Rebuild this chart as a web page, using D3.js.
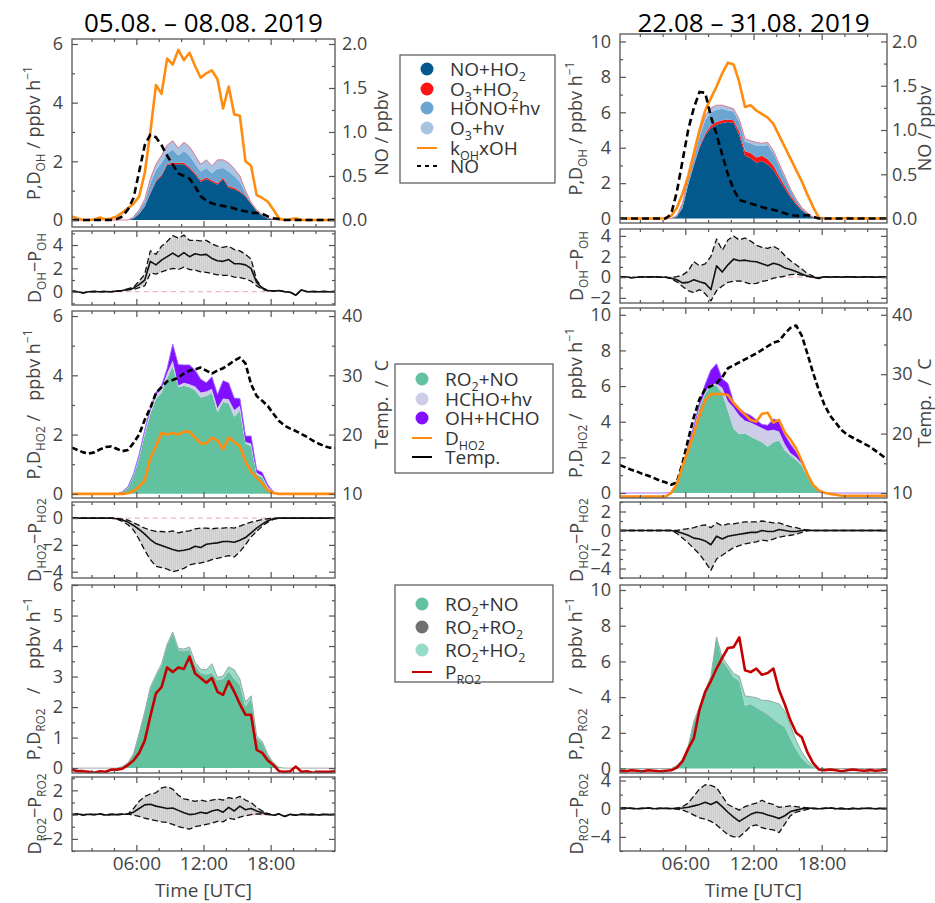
<!DOCTYPE html>
<html>
<head>
<meta charset="utf-8">
<script src="https://cdn.jsdelivr.net/npm/d3@7/dist/d3.min.js"></script>
<style>
  body { margin: 0; background: #fff; }
  svg text { font-family: "Open Sans", sans-serif; }
</style>
</head>
<body>
<script>
// half-hour bins (UTC)
const hours = [0.25,0.75,1.25,1.75,2.25,2.75,3.25,3.75,4.25,4.75,5.25,5.75,6.25,6.75,7.25,7.75,8.25,8.75,9.25,9.75,10.25,10.75,11.25,11.75,12.25,12.75,13.25,13.75,14.25,14.75,15.25,15.75,16.25,16.75,17.25,17.75,18.25,18.75,19.25,19.75,20.25,20.75,21.25,21.75,22.25,22.75,23.25,23.75];

// ---------- 05.08. - 08.08. 2019 ----------
// OH budget
const L_NO_HO2 = [0,0,0,0,0,0,0,0,0,0,0,0.05,0.2,0.45,0.9,1.3,1.5,1.88,1.9,1.9,1.9,1.75,1.55,1.3,1.4,1.3,1.2,1.4,1.1,1.05,0.95,0.8,0.55,0.3,0.15,0.05,0.02,0,0,0,0,0,0,0,0,0,0,0];
const L_O3_HO2 = [0,0,0,0,0,0,0,0,0,0,0,0,0.01,0.02,0.03,0.04,0.04,0.04,0.05,0.05,0.05,0.05,0.05,0.05,0.05,0.05,0.05,0.05,0.05,0.05,0.04,0.03,0.02,0.01,0,0,0,0,0,0,0,0,0,0,0,0,0,0];
const L_HONO_hv = [0,0,0,0,0,0,0,0,0,0,0,0.04,0.1,0.15,0.32,0.36,0.41,0.35,0.45,0.25,0.4,0.4,0.32,0.3,0.32,0.25,0.5,0.32,0.5,0.4,0.31,0.1,0.02,0.02,0.02,0.01,0,0,0,0,0,0,0,0,0,0,0,0];
const L_O3_hv = [0,0,0,0,0,0,0,0,0,0,0,0.01,0.04,0.08,0.15,0.2,0.25,0.28,0.3,0.25,0.3,0.3,0.28,0.25,0.28,0.25,0.3,0.28,0.3,0.25,0.2,0.07,0.01,0.02,0.01,0,0,0,0,0,0,0,0,0,0,0,0,0];
const L_kOH_OH = [0.12,0.05,0,0,0.02,0.08,0.02,0.05,0.12,0.25,0.4,0.55,0.8,1.6,3.0,4.6,4.3,5.5,5.3,5.8,5.45,5.7,5.25,4.85,5.0,5.1,4.8,3.8,4.55,3.6,3.55,2.0,1.85,0.85,0.75,0.62,0.35,0.05,0,0.02,0.06,0,0,0,0,0,0,0];
const L_NO = [0,0,0,0,0,0,0,0,0.01,0.04,0.12,0.25,0.55,0.85,0.97,0.94,0.85,0.73,0.63,0.53,0.5,0.47,0.38,0.27,0.22,0.19,0.17,0.16,0.15,0.13,0.11,0.1,0.08,0.08,0.07,0.04,0.02,0.01,0,0,0,0,0,0,0,0,0,0];
const L_dOH = [0.05,0,-0.1,0,0.02,0,0.02,0,0.05,0.1,0.2,0.3,0.6,1.0,2.6,2.3,2.7,3.0,3.3,3.0,3.35,3.0,3.25,3.15,3.2,2.85,2.65,2.6,2.75,2.4,2.4,2.3,2.0,0.8,0.3,0.1,0.05,0.1,0,-0.05,-0.3,0.15,0,0.02,0,0.02,0,0.02];
const L_dOH_hi = [0.05,0,-0.1,0,0.02,0,0.02,0,0.06,0.12,0.25,0.4,0.9,1.5,3.5,3.2,3.9,4.3,4.8,4.6,4.85,4.4,4.4,4.35,4.4,4.1,3.9,3.8,3.9,3.6,3.5,3.2,2.8,1.0,0.35,0.12,0.05,0.1,0,-0.05,-0.3,0.15,0,0.02,0,0.02,0,0.02];
const L_dOH_lo = [0.05,0,-0.1,0,0.02,0,0.02,0,0.04,0.08,0.15,0.2,0.35,0.5,1.6,1.5,1.7,1.85,2.0,1.9,2.1,1.9,1.85,1.7,1.65,1.55,1.45,1.4,1.4,1.25,1.2,1.1,0.9,0.5,0.2,0.08,0.05,0.1,0,-0.05,-0.3,0.15,0,0.02,0,0.02,0,0.02];
// HO2 budget
const L_RO2_NO_h = [0,0,0,0,0,0,0,0,0,0.05,0.2,0.6,1.2,2.0,2.7,3.2,3.4,3.9,4.3,3.6,3.65,3.6,3.5,3.25,3.3,3.4,2.75,3.1,3.05,2.6,2.8,1.7,1.6,0.65,0.55,0.2,0.05,0,0,0,0,0,0,0,0,0,0,0];
const L_HCHO_hv = [0,0,0,0,0,0,0,0,0,0.01,0.02,0.05,0.08,0.1,0.12,0.15,0.15,0.18,0.2,0.06,0.1,0.1,0.12,0.17,0.15,0.15,0.15,0.12,0.14,0.23,0.17,0.05,0.1,0.06,0.05,0.04,0.01,0,0,0,0,0,0,0,0,0,0,0];
const L_OH_HCHO = [0,0,0,0,0,0,0,0,0,0.01,0.02,0.03,0.05,0.06,0.08,0.08,0.1,0.15,0.55,0.7,0.6,0.65,0.55,0.45,0.3,0.4,0.45,0.6,0.55,0.4,0.25,0.2,0.25,0.1,0.12,0.06,0.01,0,0,0,0,0,0,0,0,0,0,0];
const L_D_HO2 = [0,0,0,0,0,0,0,0,0,0,0.02,0.1,0.25,0.45,1.2,1.6,2.05,2.0,2.05,2.0,2.1,2.1,1.9,1.7,1.7,1.9,1.8,1.5,1.9,1.75,1.6,1.1,0.75,0.55,0.35,0.12,0.03,0,0,0,0,0,0,0,0,0,0,0];
const L_temp = [17.8,17.4,17.0,16.8,17.0,17.5,17.9,18.0,17.6,17.2,17.4,18.6,20.0,22.5,24.5,27.0,28.0,29.0,29.2,29.6,30.3,30.8,31.0,31.3,30.8,30.3,30.8,31.2,31.8,32.5,33.0,32.0,28.5,26.5,25.7,24.8,23.5,22.3,21.5,21.0,20.6,20.1,19.6,19.0,18.5,18.1,17.8,17.7];
const L_dHO2 = [0,0,0,0,0,0,0,0,-0.05,-0.15,-0.3,-0.55,-0.85,-1.2,-1.6,-1.9,-2.05,-2.2,-2.35,-2.45,-2.4,-2.3,-2.1,-2.2,-1.95,-1.9,-1.85,-1.75,-1.75,-1.8,-1.65,-1.45,-1.1,-0.75,-0.45,-0.2,-0.05,0,0,0,0,0,0,0,0,0,0,0];
const L_dHO2_hi = [0,0,0,0,0,0,0,0,-0.02,-0.08,-0.15,-0.35,-0.55,-0.75,-0.9,-1.0,-1.0,-1.05,-0.95,-1.1,-1.0,-0.95,-0.8,-0.75,-0.75,-0.8,-0.75,-0.75,-0.7,-0.75,-0.6,-0.45,-0.3,-0.2,-0.1,-0.05,0,0,0,0,0,0,0,0,0,0,0,0];
const L_dHO2_lo = [0,0,0,0,0,0,0,0,-0.08,-0.25,-0.5,-0.9,-1.6,-2.4,-3.1,-3.6,-3.7,-3.8,-4.0,-3.9,-3.75,-3.5,-3.4,-3.35,-3.25,-3.1,-3.0,-2.9,-2.8,-2.9,-2.5,-2.0,-1.4,-1.0,-0.6,-0.3,-0.1,0,0,0,0,0,0,0,0,0,0,0];
// RO2 budget
const L_RO2_NO = [0,0,0,0,0,0,0,0,0,0.05,0.15,0.45,1.1,1.8,2.6,3.0,3.35,4.0,4.4,3.85,3.8,3.85,3.35,3.1,3.05,3.1,2.85,2.9,3.15,2.9,2.7,2.0,2.25,0.95,0.8,0.4,0.15,0.02,0,0,0,0,0,0,0,0,0,0];
const L_RO2_RO2 = [0,0,0,0,0,0,0,0,0,0,0.02,0.02,0.02,0.02,0.02,0.02,0.02,0.02,0.02,0.02,0.02,0.02,0.02,0.02,0.02,0.02,0.02,0.02,0.02,0.02,0.02,0.02,0.02,0.02,0.02,0.02,0.02,0,0,0,0,0,0,0,0,0,0,0];
const L_RO2_HO2 = [0,0,0,0,0,0,0,0,0,0,0,0,0.02,0.03,0.03,0.04,0.04,0.04,0.04,0.05,0.08,0.1,0.1,0.12,0.15,0.3,0.1,0.1,0.15,0.3,0.2,0.15,0.1,0.08,0.05,0.02,0,0,0,0,0,0,0,0,0,0,0,0];
const L_P_RO2 = [-0.05,-0.1,-0.1,-0.12,-0.15,-0.1,-0.12,-0.05,-0.05,-0.02,0.1,0.25,0.5,0.9,1.7,2.45,2.65,3.3,3.15,3.3,3.25,3.65,3.1,2.95,2.8,2.95,2.5,2.4,2.85,2.5,2.1,1.75,1.75,0.6,0.5,0.25,0.1,-0.1,-0.12,-0.1,0.05,-0.12,-0.1,-0.15,-0.12,-0.12,-0.12,-0.1];
const L_dRO2 = [0,0.05,-0.02,0.03,0,0.05,-0.03,0.02,0,0.03,0.05,0.2,0.5,0.8,0.85,0.7,0.6,0.5,0.55,0.35,0.15,0,0.05,0.2,0.1,0.3,0.4,0.2,0.6,0.3,0.7,0.4,0.5,0.3,0.15,0.05,-0.05,0.05,-0.15,0.02,-0.05,0.03,0,0.02,-0.03,0.02,0,0.02];
const L_dRO2_hi = [0,0.05,-0.02,0.03,0,0.05,-0.03,0.02,0,0.03,0.05,0.5,1.1,1.5,1.7,1.8,2.2,2.3,2.1,1.6,1.3,1.2,1.1,1.2,1.1,1.2,1.3,1.2,1.4,1.3,1.5,1.2,1.0,0.6,0.3,0.1,-0.05,0.05,-0.15,0.02,-0.05,0.03,0,0.02,-0.03,0.02,0,0.02];
const L_dRO2_lo = [0,0.05,-0.02,0.03,0,0.05,-0.03,0.02,0,0.03,0.05,-0.05,-0.15,-0.3,-0.4,-0.5,-0.6,-0.65,-0.8,-1.0,-1.1,-1.2,-1.0,-0.9,-0.8,-0.7,-0.55,-0.6,-0.3,-0.4,-0.2,-0.1,0,0.05,0.05,0,-0.05,0.05,-0.15,0.02,-0.05,0.03,0,0.02,-0.03,0.02,0,0.02];

// ---------- 22.08 - 31.08. 2019 ----------
const R_NO_HO2 = [0,0,0,0,0,0,0,0,0,0,0.1,0.6,1.9,3.0,4.0,4.7,5.1,5.3,5.4,5.45,5.4,4.7,3.55,3.4,3.15,3.25,3.05,2.75,2.2,1.7,1.2,0.8,0.45,0.25,0.05,0,0,0,0,0,0,0,0,0,0,0,0,0];
const R_O3_HO2 = [0,0,0,0,0,0,0,0,0,0,0,0.01,0.02,0.05,0.08,0.1,0.15,0.15,0.15,0.15,0.15,0.2,0.25,0.3,0.3,0.3,0.3,0.25,0.2,0.15,0.12,0.1,0.05,0.02,0.01,0,0,0,0,0,0,0,0,0,0,0,0,0];
const R_HONO_hv = [0,0,0,0,0,0,0,0,0,0,0.05,0.2,0.3,0.3,0.55,0.75,0.75,0.7,0.65,0.5,0.5,0.55,0.55,0.55,0.65,0.55,0.8,0.7,0.6,0.45,0.3,0.15,0.1,0.05,0.02,0,0,0,0,0,0,0,0,0,0,0,0,0];
const R_O3_hv = [0,0,0,0,0,0,0,0,0,0,0.02,0.05,0.1,0.1,0.2,0.25,0.25,0.25,0.2,0.2,0.15,0.15,0.15,0.15,0.2,0.15,0.15,0.15,0.1,0.1,0.05,0.05,0.02,0.01,0,0,0,0,0,0,0,0,0,0,0,0,0,0];
const R_kOH_OH = [0,0,0,0,0,0,0,0,0.02,0.15,0.6,1.4,2.4,3.7,5.0,6.1,6.8,7.45,8.2,8.8,8.7,7.7,6.3,6.4,6.1,5.9,5.7,5.35,4.7,4.05,3.4,2.75,2.1,1.35,0.65,0.05,0,0.02,0,0,0.03,0,0,0.02,0,0,0.02,0];
const R_NO = [0,0,0,0,0,0,0,0,0,0.05,0.3,0.65,1.0,1.25,1.43,1.42,1.15,0.95,0.72,0.5,0.33,0.21,0.19,0.17,0.15,0.13,0.11,0.1,0.08,0.06,0.04,0.03,0.03,0.04,0.02,0,0,0,0,0,0,0,0,0,0,0,0,0];
const R_dOH = [0.05,0.05,-0.05,0,0.05,0.02,0.05,0,0,-0.1,-0.25,-0.55,-0.5,-0.25,-0.45,-0.6,-1.2,1.1,0.5,1.2,1.75,1.6,1.65,1.55,1.5,1.3,1.1,1.35,1.2,0.9,0.75,0.55,0.3,0.1,0,-0.1,0.05,0,0.05,0,0.05,0.02,0,0.05,0.02,0,0.05,0];
const R_dOH_hi = [0.05,0.05,-0.05,0,0.05,0.02,0.05,0,0,-0.05,0.05,0.2,0.6,1.5,1.1,1.3,2.0,3.7,2.6,3.6,4.0,3.6,3.8,3.5,3.1,2.9,2.8,3.0,2.7,2.1,1.6,1.2,0.8,0.35,0.1,-0.05,0.05,0,0.05,0,0.05,0.02,0,0.05,0.02,0,0.05,0];
const R_dOH_lo = [0.05,0.05,-0.05,0,0.05,0.02,0.05,0,0,-0.15,-0.45,-0.9,-1.3,-1.5,-1.2,-1.6,-2.3,-1.3,-0.85,-0.5,-0.4,-0.35,-0.5,-0.65,-0.6,-0.4,-0.3,-0.1,0,0.1,0.25,0.3,0.2,0.1,0,-0.15,0.05,0,0.05,0,0.05,0.02,0,0.05,0.02,0,0.05,0];
const R_RO2_NO_h = [0,0,0,0,0,0,0,0,0,0.02,0.4,1.4,2.5,3.5,4.8,5.6,6.0,6.0,5.6,4.6,3.6,3.3,3.35,3.15,3.0,2.85,2.6,2.85,2.95,2.4,2.1,1.85,1.55,0.9,0.35,0.05,0,0,0,0,0,0,0,0,0,0,0,0];
const R_HCHO_hv = [0,0,0,0,0,0,0,0,0,0,0.02,0.05,0.08,0.1,0.1,0.1,0.1,0.15,0.3,0.55,1.2,1.05,0.7,0.8,0.8,0.8,0.9,0.7,0.5,0.35,0.15,0.15,0.1,0.1,0.05,0,0,0,0,0,0,0,0,0,0,0,0,0];
const R_OH_HCHO = [0,0,0,0,0,0,0,0,0,0,0.01,0.05,0.1,0.15,0.2,0.4,0.8,1.1,0.5,1.0,0.3,0.4,0.45,0.4,0.3,0.2,0.3,0.6,0.6,0.5,0.5,0.3,0.15,0.05,0.02,0,0,0,0,0,0,0,0,0,0,0,0,0];
const R_D_HO2 = [-0.2,-0.2,-0.2,-0.2,-0.2,-0.2,-0.2,-0.2,-0.2,0,0.5,1.5,2.4,3.35,4.35,5.2,5.55,5.55,5.55,5.5,5.05,4.7,4.4,4.1,4.0,4.45,4.5,3.95,4.1,3.4,3.0,2.5,1.8,1.05,0.45,0.15,0.02,-0.05,-0.1,-0.15,-0.15,-0.15,-0.15,-0.15,-0.15,-0.15,-0.15,-0.15];
const R_temp = [14.7,14.3,13.9,13.6,13.2,12.9,12.5,12.1,11.8,11.4,11.8,15.0,19.0,22.8,25.8,27.5,28.0,28.5,29.5,31.0,31.5,32.0,32.5,33.0,33.5,34.1,34.7,35.3,35.6,36.8,37.8,38.2,36.5,33.4,30.2,27.3,24.8,23.0,21.8,20.6,19.8,19.3,18.8,18.3,17.8,17.1,16.4,15.7];
const R_dHO2 = [0,0,0,0,0,0,0,0,0,0,-0.1,-0.3,-0.5,-0.8,-0.9,-1.1,-1.5,-0.6,-0.9,-0.6,-0.5,-0.4,-0.3,-0.2,-0.2,0,-0.1,-0.1,0.1,0,-0.1,-0.1,0,0.05,0,0,0,0,0,0,0,0,0,0,0,0,0,0];
const R_dHO2_hi = [0,0,0,0,0,0,0,0,0,0,0,0.1,0.2,0.3,0.5,0.6,0.3,0.8,0.5,0.7,0.7,0.8,0.9,0.9,0.9,1.0,0.9,0.8,0.8,0.6,0.4,0.3,0.15,0.05,0,0,0,0,0,0,0,0,0,0,0,0,0,0];
const R_dHO2_lo = [0,0,0,0,0,0,0,0,0,0,-0.3,-0.8,-1.3,-1.9,-2.5,-3.3,-4.2,-3.0,-2.6,-2.2,-1.8,-1.6,-1.4,-1.3,-1.2,-1.0,-1.1,-0.9,-0.7,-0.6,-0.5,-0.4,-0.2,-0.05,0,0,0,0,0,0,0,0,0,0,0,0,0,0];
const R_RO2_NO = [0,0,0,0,0,0,0,0,0,0,0.15,0.5,1.2,2.6,3.4,4.3,5.1,7.3,6.0,5.6,5.1,4.9,3.5,3.6,3.4,3.2,3.0,2.75,2.5,2.3,1.65,1.05,0.55,0.25,0.05,0,0,0,0,0,0,0,0,0,0,0,0,0];
const R_RO2_RO2 = [0,0,0,0,0,0,0,0,0,0,0.02,0.02,0.02,0.02,0.02,0.02,0.02,0.02,0.02,0.02,0.02,0.02,0.02,0.02,0.02,0.02,0.02,0.02,0.02,0.02,0.02,0.02,0.02,0.02,0.02,0,0,0,0,0,0,0,0,0,0,0,0,0];
const R_RO2_HO2 = [0,0,0,0,0,0,0,0,0,0,0,0,0.02,0.03,0.04,0.05,0.05,0.05,0.2,0.15,0.2,0.25,0.55,0.4,0.55,0.6,0.8,0.95,1.1,0.9,0.75,0.5,0.35,0.2,0.05,0,0,0,0,0,0,0,0,0,0,0,0,0];
const R_P_RO2 = [-0.12,-0.15,-0.1,-0.12,-0.15,-0.1,-0.12,-0.15,-0.12,-0.1,0.05,0.4,1.1,1.7,3.3,4.3,4.9,5.6,6.2,6.75,6.8,7.35,5.5,5.4,5.6,5.25,5.35,5.6,4.4,3.6,2.7,2.0,1.75,0.9,0.3,-0.05,-0.1,-0.05,-0.1,-0.15,-0.1,-0.05,-0.1,-0.12,-0.08,-0.12,-0.1,-0.05];
const R_dRO2 = [0.05,0.1,0.05,0,0.05,0.1,0,0.05,0.05,0.02,0.05,0.1,0.2,0.4,0.6,0.9,0.6,1.0,0.3,-0.5,-1.2,-1.8,-1.3,-0.8,-0.5,-0.6,-0.9,-1.1,-1.4,-1.0,-0.4,-0.2,0,0.1,0.05,0,0.05,0.1,0,0.05,-0.05,0.05,0,0.05,0.05,0,0.05,0.02];
const R_dRO2_hi = [0.05,0.1,0.05,0,0.05,0.1,0,0.05,0.05,0.02,0.1,0.3,0.8,1.8,2.8,3.4,3.3,3.0,1.8,0.6,0.2,-0.2,0.3,0.6,0.8,1.2,0.8,0.6,0.2,0.3,0.4,0.3,0.2,0.1,0.05,0,0.05,0.1,0,0.05,-0.05,0.05,0,0.05,0.05,0,0.05,0.02];
const R_dRO2_lo = [0.05,0.1,0.05,0,0.05,0.1,0,0.05,0.05,0.02,-0.05,-0.2,-0.5,-0.9,-1.3,-1.5,-1.8,-2.3,-3.0,-3.7,-4.0,-4.0,-3.3,-2.5,-2.3,-2.7,-2.9,-3.0,-3.4,-2.2,-1.0,-0.5,-0.3,-0.1,0.05,0,0.05,0.1,0,0.05,-0.05,0.05,0,0.05,0.05,0,0.05,0.02];

// colours
const C_NOHO2 = "#03588c", C_O3HO2 = "#ff1414", C_HONO = "#6ba6d3", C_O3HV = "#a9c3e2";
const C_ORANGE = "#ff8c0f", C_GREEN = "#62c2a0", C_LAV = "#cdcde8", C_PURPLE = "#8010ff";
const C_GREY = "#707070", C_TEAL = "#96dcc9", C_RED = "#c40000";
const FS = 18, LABEL_FILL = "#444";

let svg = d3.select("body").append("svg").attr("width", 935).attr("height", 903);
let defs = svg.append("defs");

// light grey hatch for the uncertainty band
let pat = defs.append("pattern").attr("id", "hatch").attr("patternUnits", "userSpaceOnUse")
    .attr("width", 2).attr("height", 10);
pat.append("rect").attr("width", 2).attr("height", 10).attr("fill", "#cdcdcd");
pat.append("rect").attr("width", 0.7).attr("height", 10).attr("fill", "#dedede");

// text with sub / superscripts: parts = ["P,D", ["OH","sub"], ...]
function rich(t, parts, fs) {
    let shift = 0;
    parts.forEach(p => {
        let s = typeof p === "string" ? p : p[0];
        let k = typeof p === "string" ? "" : p[1];
        let target = k === "sub" ? 0.28 : k === "sup" ? -0.45 : 0;
        t.append("tspan")
            .attr("dy", ((target - shift) * fs).toFixed(2))
            .attr("font-size", k ? fs * 0.66 : fs)
            .text(s);
        shift = target;
    });
}

let nClip = 0;
function makePanel(xs, box) {
    let [top, bottom, dom] = box;
    let y = d3.scaleLinear().domain(dom).range([bottom, top]);
    let [x0, x1] = xs.range();
    let id = "clip" + (nClip++);
    defs.append("clipPath").attr("id", id)
        .append("rect").attr("x", x0).attr("y", top).attr("width", x1 - x0).attr("height", bottom - top);
    let g = svg.append("g");
    let plot = g.append("g").attr("clip-path", "url(#" + id + ")");
    return { xs, y, g, plot, top, bottom, x0, x1, dom };
}

function styleAxis(sel) {
    sel.select(".domain").remove();
    sel.selectAll(".tick line").attr("stroke", "#555").attr("stroke-width", 1.2);
    sel.selectAll(".tick text").attr("fill", LABEL_FILL).attr("font-size", FS);
}

function inside(vals, sc) {
    let [a, b] = d3.extent(sc.domain());
    return vals.filter(v => v >= a - 1e-9 && v <= b + 1e-9);
}

const hourMajor = [6, 12, 18], hourMinor = [2, 4, 8, 10, 14, 16, 20, 22];
const intFmt = d3.format("d");

function axes(p, o) {
    let g = p.g;
    let bottomAx = g.append("g").attr("transform", `translate(0,${p.bottom})`)
        .call(d3.axisBottom(p.xs).tickValues(hourMajor).tickSize(-6).tickPadding(5)
            .tickFormat(o.xLabels ? d => d3.format("02")(d) + ":00" : ""))
        .call(styleAxis);
    bottomAx.selectAll(".tick text")
        .attr("font-family", "'Liberation Sans Narrow', 'Liberation Sans', sans-serif")
        .attr("font-size", 19);
    g.append("g").attr("transform", `translate(0,${p.bottom})`)
        .call(d3.axisBottom(p.xs).tickValues(hourMinor).tickSize(-3).tickFormat("")).call(styleAxis);
    g.append("g").attr("transform", `translate(0,${p.top})`)
        .call(d3.axisTop(p.xs).tickValues(hourMajor).tickSize(-6).tickFormat("")).call(styleAxis);
    g.append("g").attr("transform", `translate(0,${p.top})`)
        .call(d3.axisTop(p.xs).tickValues(hourMinor).tickSize(-3).tickFormat("")).call(styleAxis);

    g.append("g").attr("transform", `translate(${p.x0},0)`)
        .call(d3.axisLeft(p.y).tickValues(inside(o.yt, p.y)).tickSize(-6).tickPadding(9).tickFormat(intFmt))
        .call(styleAxis);
    g.append("g").attr("transform", `translate(${p.x0},0)`)
        .call(d3.axisLeft(p.y).tickValues(inside(o.ym, p.y)).tickSize(-3).tickFormat("")).call(styleAxis);

    let rs = o.right ? o.right.scale : p.y;
    let rt = o.right ? o.right.ticks : o.yt;
    let rm = o.right ? o.right.minor : o.ym;
    g.append("g").attr("transform", `translate(${p.x1},0)`)
        .call(d3.axisRight(rs).tickValues(inside(rt, rs)).tickSize(-6).tickPadding(o.rpad || 7)
            .tickFormat(o.right ? o.right.fmt : ""))
        .call(styleAxis);
    g.append("g").attr("transform", `translate(${p.x1},0)`)
        .call(d3.axisRight(rs).tickValues(inside(rm, rs)).tickSize(-3).tickFormat("")).call(styleAxis);

    g.append("rect").attr("x", p.x0).attr("y", p.top)
        .attr("width", p.x1 - p.x0).attr("height", p.bottom - p.top)
        .attr("fill", "none").attr("stroke", "#555").attr("stroke-width", 1.3);
}

function stackArea(p, cols, colors, outline) {
    let keys = cols.map((c, i) => "k" + i);
    let rows = hours.map((h, i) => {
        let r = { h };
        cols.forEach((c, j) => r["k" + j] = c[i]);
        return r;
    });
    let series = d3.stack().keys(keys)(rows);
    let area = d3.area().x(d => p.xs(d.data.h)).y0(d => p.y(d[0])).y1(d => p.y(d[1]));
    p.plot.selectAll(null).data(series).join("path")
        .attr("d", area).attr("fill", (d, i) => colors[i]);
    let top = d3.line().x(d => p.xs(d.data.h)).y(d => p.y(d[1]));
    p.plot.append("path").datum(series[series.length - 1]).attr("d", top)
        .attr("fill", "none").attr("stroke", outline).attr("stroke-width", 0.9);
}

function drawLine(p, ys, vals, color, w, dash) {
    let line = d3.line().x((d, i) => p.xs(hours[i])).y(d => ys(d));
    p.plot.append("path").datum(vals).attr("d", line)
        .attr("fill", "none").attr("stroke", color).attr("stroke-width", w)
        .attr("stroke-dasharray", dash || null).attr("stroke-linejoin", "round");
}

function diffPanel(p, mean, lo, hi) {
    // zero reference over the daytime span of the band
    let day = hours.filter((h, i) => hi[i] !== lo[i]);
    p.plot.append("line")
        .attr("x1", p.xs(d3.min(day))).attr("x2", p.xs(d3.max(day)))
        .attr("y1", p.y(0)).attr("y2", p.y(0))
        .attr("stroke", "#f5b3bc").attr("stroke-width", 1.3).attr("stroke-dasharray", "5,4");
    let band = d3.area().x((d, i) => p.xs(hours[i])).y0((d, i) => p.y(lo[i])).y1((d, i) => p.y(hi[i]));
    p.plot.append("path").datum(mean).attr("d", band).attr("fill", "url(#hatch)");
    drawLine(p, p.y, hi, "#111", 1.3, "6,3");
    drawLine(p, p.y, lo, "#111", 1.3, "6,3");
    drawLine(p, p.y, mean, "#111", 1.6);
}

function vLabel(x, yc, parts, fs) {
    let t = svg.append("text")
        .attr("transform", `translate(${x},${yc}) rotate(-90)`)
        .attr("text-anchor", "middle").attr("fill", LABEL_FILL)
        .style("white-space", "pre");
    rich(t, parts, fs || FS);
}

const columns = [
    {
        title: "05.08. \u2013 08.08. 2019",
        x: d3.scaleLinear().domain([0.25, 23.75]).range([72, 335]),
        labX: 40, rLabX: 388, rpad: 7, noK: 3, tK: 5,
        p1: [39, 227, [-0.24, 6.17]], d1: [231, 305, [-1.14, 5.2]],
        p2: [311, 498, [-0.14, 6.17]], d2: [502, 578, [-4.47, 1.2]],
        p3: [585, 773, [-0.16, 6.0]], d3: [777, 851, [-3, 3.1]],
        t1: [0, 2, 4, 6], m1: [1, 3, 5],
        td1: [0, 2, 4], md1: [-1, 1, 3, 5],
        td2: [-4, -2, 0], md2: [-3, -1, 1],
        t3: [0, 1, 2, 3, 4, 5, 6], m3: [0.5, 1.5, 2.5, 3.5, 4.5, 5.5],
        td3: [-2, 0, 2], md3: [-3, -1, 1, 3],
        OH: [L_NO_HO2, L_O3_HO2, L_HONO_hv, L_O3_hv], kOH: L_kOH_OH, NO: L_NO,
        dOH: [L_dOH, L_dOH_lo, L_dOH_hi],
        HO2: [L_RO2_NO_h, L_HCHO_hv, L_OH_HCHO], DHO2: L_D_HO2, T: L_temp,
        dHO2: [L_dHO2, L_dHO2_lo, L_dHO2_hi],
        RO2: [L_RO2_NO, L_RO2_RO2, L_RO2_HO2], PRO2: L_P_RO2,
        dRO2: [L_dRO2, L_dRO2_lo, L_dRO2_hi]
    },
    {
        title: "22.08 \u2013 31.08. 2019",
        x: d3.scaleLinear().domain([0.25, 23.75]).range([620, 887]),
        labX: 582, rLabX: 931, rpad: 5, noK: 5, tK: 3,
        p1: [34, 223, [-0.25, 10.42]], d1: [229, 303, [-2.5, 4.67]],
        p2: [308, 498, [-0.28, 10.38]], d2: [502, 578, [-5, 3]],
        p3: [585, 773, [-0.25, 10.28]], d3: [777, 851, [-6, 4.5]],
        t1: [0, 2, 4, 6, 8, 10], m1: [1, 3, 5, 7, 9],
        td1: [-2, 0, 2, 4], md1: [-1, 1, 3],
        td2: [-4, -2, 0, 2], md2: [-5, -3, -1, 1, 3],
        t3: [0, 2, 4, 6, 8, 10], m3: [1, 3, 5, 7, 9],
        td3: [-4, 0, 4], md3: [-6, -2, 2],
        OH: [R_NO_HO2, R_O3_HO2, R_HONO_hv, R_O3_hv], kOH: R_kOH_OH, NO: R_NO,
        dOH: [R_dOH, R_dOH_lo, R_dOH_hi],
        HO2: [R_RO2_NO_h, R_HCHO_hv, R_OH_HCHO], DHO2: R_D_HO2, T: R_temp,
        dHO2: [R_dHO2, R_dHO2_lo, R_dHO2_hi],
        RO2: [R_RO2_NO, R_RO2_RO2, R_RO2_HO2], PRO2: R_P_RO2,
        dRO2: [R_dRO2, R_dRO2_lo, R_dRO2_hi]
    }
];

columns.forEach(c => {
    let xs = c.x;
    let mid = box => (box[0] + box[1]) / 2;

    // title
    svg.append("text").attr("x", xs(12)).attr("y", 32).attr("text-anchor", "middle")
        .attr("font-family", "Lato, 'Open Sans', sans-serif").attr("font-size", 26).attr("fill", "#000")
        .text(c.title);

    // --- OH production / destruction
    let p1 = makePanel(xs, c.p1);
    stackArea(p1, c.OH, [C_NOHO2, C_O3HO2, C_HONO, C_O3HV], "#e06a80");
    drawLine(p1, p1.y, c.kOH, C_ORANGE, 2.6);
    let yNO = d3.scaleLinear().domain(c.p1[2].map(v => v / c.noK)).range([c.p1[1], c.p1[0]]);
    drawLine(p1, yNO, c.NO, "#000", 2.6, "7,4");
    axes(p1, { yt: c.t1, ym: c.m1, rpad: c.rpad,
        right: { scale: yNO, ticks: [0, 0.5, 1, 1.5, 2], minor: [0.25, 0.75, 1.25, 1.75], fmt: d3.format(".1f") } });
    vLabel(c.labX, mid(c.p1), ["P,D", ["OH", "sub"], " / ppbv h", ["\u22121", "sup"]]);
    vLabel(c.rLabX, mid(c.p1), ["NO / ppbv"]);

    let d1 = makePanel(xs, c.d1);
    diffPanel(d1, ...c.dOH);
    axes(d1, { yt: c.td1, ym: c.md1 });
    vLabel(c.labX + 1, mid(c.d1), ["D", ["OH", "sub"], "\u2212P", ["OH", "sub"]]);

    // --- HO2
    let p2 = makePanel(xs, c.p2);
    stackArea(p2, c.HO2, [C_GREEN, C_LAV, C_PURPLE], "#9b62ff");
    let yT = d3.scaleLinear().domain(c.p2[2].map(v => 10 + v * c.tK)).range([c.p2[1], c.p2[0]]);
    drawLine(p2, yT, c.T, "#000", 2.6, "6,3");
    drawLine(p2, p2.y, c.DHO2, C_ORANGE, 2.6);
    axes(p2, { yt: c.t1, ym: c.m1, rpad: c.rpad,
        right: { scale: yT, ticks: [10, 20, 30, 40], minor: [15, 25, 35], fmt: intFmt } });
    vLabel(c.labX, mid(c.p2), ["P,D", ["HO2", "sub"], " /   ppbv h", ["\u22121", "sup"]]);
    vLabel(c.rLabX, mid(c.p2), ["Temp.  /  C"]);

    let d2 = makePanel(xs, c.d2);
    diffPanel(d2, ...c.dHO2);
    axes(d2, { yt: c.td2, ym: c.md2 });
    vLabel(c.labX + 1, mid(c.d2), ["D", ["HO2", "sub"], "\u2212P", ["HO2", "sub"]]);

    // --- RO2
    let p3 = makePanel(xs, c.p3);
    stackArea(p3, c.RO2, [C_GREEN, C_GREY, C_TEAL], "#8fa39c");
    drawLine(p3, p3.y, c.PRO2, C_RED, 2.6);
    axes(p3, { yt: c.t3, ym: c.m3 });
    vLabel(c.labX, mid(c.p3), ["P,D", ["RO2", "sub"], "   /    ppbv h", ["\u22121", "sup"]]);

    let d3p = makePanel(xs, c.d3);
    diffPanel(d3p, ...c.dRO2);
    axes(d3p, { yt: c.td3, ym: c.md3, xLabels: true });
    vLabel(c.labX + 1, mid(c.d3), ["D", ["RO2", "sub"], "\u2212P", ["RO2", "sub"]]);

    svg.append("text").attr("x", xs(12)).attr("y", 897).attr("text-anchor", "middle")
        .attr("font-family", "'Liberation Sans Narrow', 'Liberation Sans', sans-serif")
        .attr("font-size", 19).attr("fill", LABEL_FILL).text("Time [UTC]");
});

// legends
function legend(x, y, w, h, rowY, items) {
    let g = svg.append("g");
    g.append("rect").attr("x", x).attr("y", y).attr("width", w).attr("height", h)
        .attr("fill", "#fff").attr("stroke", "#555").attr("stroke-width", 1.2);
    items.forEach((it, i) => {
        let cy = rowY[i];
        if (it.type === "dot") {
            g.append("circle").attr("cx", x + 27).attr("cy", cy).attr("r", 6.5).attr("fill", it.color);
        } else {
            g.append("line").attr("x1", x + 17).attr("x2", x + 37).attr("y1", cy).attr("y2", cy)
                .attr("stroke", it.color).attr("stroke-width", 2).attr("stroke-dasharray", it.dash || null);
        }
        let t = g.append("text").attr("x", x + 50).attr("y", cy + 6.5).attr("fill", "#333");
        rich(t, it.label, 19);
    });
}

legend(400, 55, 155, 128, [69, 89, 108, 128, 148, 166], [
    { type: "dot", color: C_NOHO2, label: ["NO+HO", ["2", "sub"]] },
    { type: "dot", color: C_O3HO2, label: ["O", ["3", "sub"], "+HO", ["2", "sub"]] },
    { type: "dot", color: C_HONO, label: ["HONO+hv"] },
    { type: "dot", color: C_O3HV, label: ["O", ["3", "sub"], "+hv"] },
    { type: "line", color: C_ORANGE, label: ["k", ["OH", "sub"], "xOH"] },
    { type: "line", color: "#000", dash: "4,4", label: ["NO"] }
]);

legend(395, 364, 158, 109, [379, 399, 418, 438, 457], [
    { type: "dot", color: C_GREEN, label: ["RO", ["2", "sub"], "+NO"] },
    { type: "dot", color: C_LAV, label: ["HCHO+hv"] },
    { type: "dot", color: C_PURPLE, label: ["OH+HCHO"] },
    { type: "line", color: C_ORANGE, label: ["D", ["HO2", "sub"]] },
    { type: "line", color: "#000", label: ["Temp."] }
]);

legend(395, 585, 158, 97, [604, 627, 650, 672], [
    { type: "dot", color: C_GREEN, label: ["RO", ["2", "sub"], "+NO"] },
    { type: "dot", color: C_GREY, label: ["RO", ["2", "sub"], "+RO", ["2", "sub"]] },
    { type: "dot", color: C_TEAL, label: ["RO", ["2", "sub"], "+HO", ["2", "sub"]] },
    { type: "line", color: C_RED, label: ["P", ["RO2", "sub"]] }
]);
</script>
</body>
</html>
